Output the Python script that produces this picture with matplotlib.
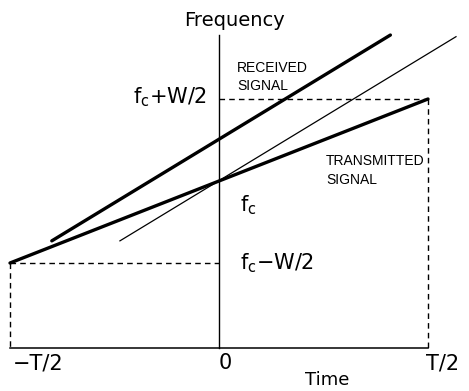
import numpy as np
import matplotlib.pyplot as plt

# time in units of T, frequency in units of W/2 relative to fc
tx_t = [-0.5, 0.5]
tx_f = [-1.0, 1.0]
rx_t = [-0.40, 0.41]
rx_f = [-0.73, 1.78]
ref_t = [-0.237, 0.567]
ref_f = [-0.73, 1.76]

t_ticks = [-0.5, 0.0, 0.5]
t_labels = ["\u2212T/2", "0", "T/2"]
label_pos = [-0.433, 0.014, 0.535]
f_floor = -2.04
f_top = 1.78

plt.rcParams["mathtext.fontset"] = "dejavusans"

fig = plt.figure(figsize=(4.69, 3.91), dpi=100)
ax = fig.add_axes([0, 0, 1, 1])
ax.set_xlim(-219 / 418, 250 / 418)
ax.set_ylim(-210 / 82, 181 / 82)
ax.axis("off")

# axes
ax.plot([t_ticks[0], t_ticks[-1]], [f_floor, f_floor], color="black", lw=1.1)
ax.plot([0, 0], [f_floor, f_top], color="black", lw=1.0)

# chirps
ax.plot(tx_t, tx_f, color="black", lw=2.4, solid_capstyle="round")
ax.plot(rx_t, rx_f, color="black", lw=2.4, solid_capstyle="round")
ax.plot(ref_t, ref_f, color="black", lw=0.9)

# dashed guides
dash = dict(color="black", lw=1.0, ls=(0, (4, 3)))
ax.plot([0, tx_t[1]], [tx_f[1], tx_f[1]], **dash)
ax.plot([tx_t[1], tx_t[1]], [tx_f[1], f_floor], **dash)
ax.plot([tx_t[0], 0], [tx_f[0], tx_f[0]], **dash)
ax.plot([tx_t[0], tx_t[0]], [tx_f[0], f_floor], **dash)

big = 15
ax.text(0.038, 1.96, "Frequency", ha="center", va="center", fontsize=14)
ax.text(0.26, -2.43, "Time", ha="center", va="center", fontsize=13)
for x, lab in zip(label_pos, t_labels):
    ax.text(x, -2.22, lab, ha="center", va="center", fontsize=big)

ax.text(-0.03, 1.02, r"f$_\mathregular{c}$+W/2", ha="right", va="center", fontsize=big)
ax.text(0.05, -0.29, r"f$_\mathregular{c}$", ha="left", va="center", fontsize=big)
ax.text(0.05, -1.0, "f$_\\mathregular{c}$\u2212W/2", ha="left", va="center", fontsize=big)

ax.text(0.043, 1.27, "RECEIVED\nSIGNAL", ha="left", va="center", fontsize=10,
        family="Liberation Sans", linespacing=1.4)
ax.text(0.256, 0.13, "TRANSMITTED\nSIGNAL", ha="left", va="center", fontsize=10,
        family="Liberation Sans", linespacing=1.4)

fig.savefig("out.png", dpi=100)
